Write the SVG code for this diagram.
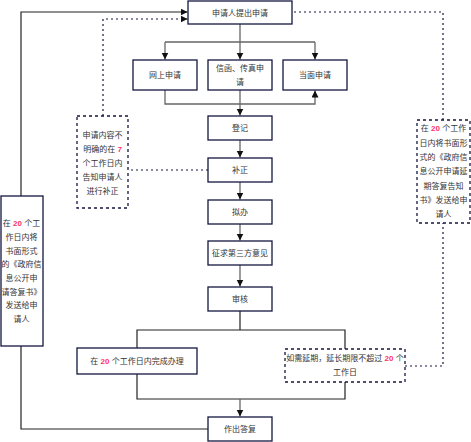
<svg xmlns="http://www.w3.org/2000/svg" width="471" height="442" viewBox="0 0 471 442">
<defs>
<marker id="ah" markerUnits="userSpaceOnUse" markerWidth="8" markerHeight="8" refX="7" refY="3.5" orient="auto">
<path d="M0,0 L7,3.5 L0,7 z" fill="#111"/>
</marker>
<style>
.box{fill:#fff;stroke:#14163f;stroke-width:1.3}
.dbox{fill:#fff;stroke:#14163f;stroke-width:1.3;stroke-dasharray:3 3}
.t{font-family:'Liberation Sans','Noto Sans CJK SC',sans-serif;font-size:8px;fill:#333;text-anchor:middle}
.r{fill:#ff3366;font-weight:bold}
.g{fill:none;stroke:#666;stroke-width:1.3}
.k{fill:none;stroke:#222;stroke-width:1.2}
.d{fill:none;stroke:#14163f;stroke-width:1.2;stroke-dasharray:2 3}
</style>
</defs>
<rect width="471" height="442" fill="#fff"/>
<g id="connectors">
<path class="g" d="M240,24 V42 M165,42 H315"/>
<path class="g" d="M165,42 V59.5" marker-end="url(#ah)"/>
<path class="g" d="M240,42 V59.5" marker-end="url(#ah)"/>
<path class="g" d="M315,42 V59.5" marker-end="url(#ah)"/>
<path class="g" d="M165,90 V104 H315 V90.5" marker-end="url(#ah)"/>
<path class="g" d="M240,90 V115.5" marker-end="url(#ah)"/>
<path class="g" d="M240,140 V157.5" marker-end="url(#ah)"/>
<path class="g" d="M240,182 V199.5" marker-end="url(#ah)"/>
<path class="g" d="M240,224 V240.5" marker-end="url(#ah)"/>
<path class="g" d="M240,265 V286.5" marker-end="url(#ah)"/>
<path class="k" d="M240,311 V330 M137,348 V330 H345 V349"/>
<path class="k" d="M137,374 V399 H345 V382"/>
<path class="g" d="M240,399 V416.5" marker-end="url(#ah)"/>
<path class="k" d="M208,429 H21 V346"/>
<path class="k" d="M21,196 V12 H187.5" marker-end="url(#ah)"/>
<path class="d" d="M208,170 H128"/>
<path class="d" d="M103,116 V19 H187.5" marker-end="url(#ah)"/>
<path class="d" d="M405,366 H443 V223"/>
<path class="d" d="M443,120 V12 H292"/>
</g>
<g id="n1"><rect class="box" x="188" y="1" width="104" height="23"/><text class="t" x="240" y="15.5">申请人提出申请</text></g>
<g id="n2"><rect class="box" x="133" y="60" width="64" height="30"/><text class="t" x="165" y="78">网上申请</text></g>
<g id="n3"><rect class="box" x="208" y="60" width="64" height="30"/><text class="t" x="240" y="71">信函、传真申</text><text class="t" x="240" y="84.5">请</text></g>
<g id="n4"><rect class="box" x="283" y="60" width="64" height="30"/><text class="t" x="315" y="78">当面申请</text></g>
<g id="n5"><rect class="box" x="208" y="116" width="64" height="24"/><text class="t" x="240" y="131">登记</text></g>
<g id="n6"><rect class="box" x="208" y="158" width="64" height="24"/><text class="t" x="240" y="173">补正</text></g>
<g id="n7"><rect class="box" x="208" y="200" width="64" height="24"/><text class="t" x="240" y="215">拟办</text></g>
<g id="n8"><rect class="box" x="208" y="241" width="64" height="24"/><text class="t" x="240" y="256">征求第三方意见</text></g>
<g id="n9"><rect class="box" x="208" y="287" width="64" height="24"/><text class="t" x="240" y="302">审核</text></g>
<g id="n10"><rect class="box" x="77" y="348" width="120" height="26"/><text class="t" x="137" y="364">在 <tspan class="r">20</tspan> 个工作日内完成办理</text></g>
<g id="n11"><rect class="dbox" x="285" y="349" width="120" height="33"/><text class="t" x="345" y="361">如需延期，延长期限不超过 <tspan class="r">20</tspan> 个</text><text class="t" x="345" y="375">工作日</text></g>
<g id="n12"><rect class="box" x="208" y="417" width="64" height="24"/><text class="t" x="240" y="432">作出答复</text></g>
<g id="n13"><rect class="box" x="1" y="196" width="42" height="150"/>
<text class="t" x="21.5" y="226">在 <tspan class="r">20</tspan> 个工</text>
<text class="t" x="21.5" y="240">作日内将</text>
<text class="t" x="21.5" y="253.5">书面形式</text>
<text class="t" x="21.5" y="267">的《政府信</text>
<text class="t" x="21.5" y="281">息公开申</text>
<text class="t" x="21.5" y="294.5">请答复书》</text>
<text class="t" x="21.5" y="308">发送给申</text>
<text class="t" x="21.5" y="322">请人</text>
</g>
<g id="n14"><rect class="dbox" x="77" y="116" width="51" height="92"/>
<text class="t" x="102.5" y="138">申请内容不</text>
<text class="t" x="102.5" y="152">明确的在 <tspan class="r">7</tspan></text>
<text class="t" x="102.5" y="166">个工作日内</text>
<text class="t" x="102.5" y="180">告知申请人</text>
<text class="t" x="102.5" y="194">进行补正</text>
</g>
<g id="n15"><rect class="dbox" x="417" y="120" width="53" height="103"/>
<text class="t" x="443.5" y="131">在 <tspan class="r">20</tspan> 个工作</text>
<text class="t" x="443.5" y="145.5">日内将书面形</text>
<text class="t" x="443.5" y="160">式的《政府信</text>
<text class="t" x="443.5" y="174">息公开申请延</text>
<text class="t" x="443.5" y="188.5">期答复告知</text>
<text class="t" x="443.5" y="203">书》发送给申</text>
<text class="t" x="443.5" y="217">请人</text>
</g>
</svg>
